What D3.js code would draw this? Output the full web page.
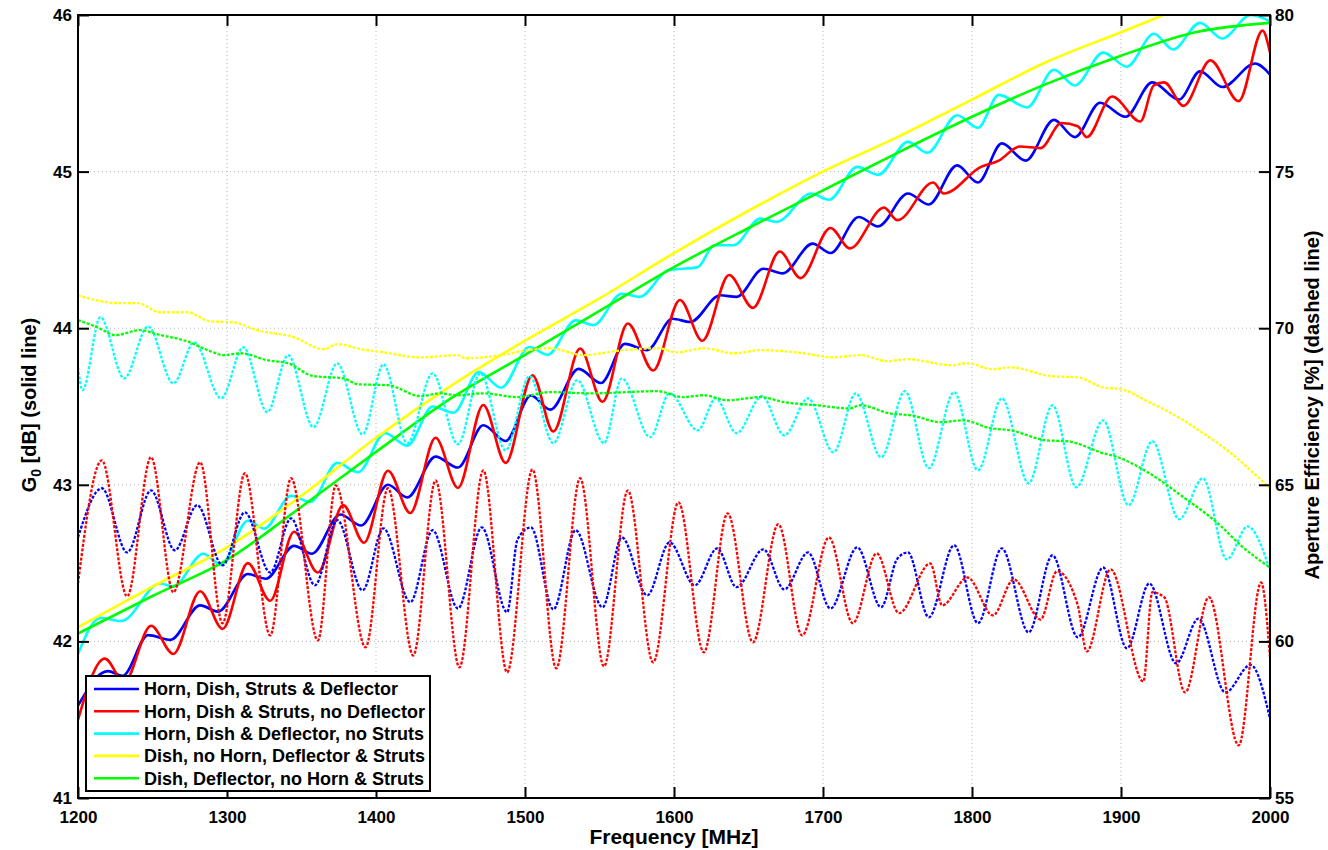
<!DOCTYPE html>
<html><head><meta charset="utf-8">
<script src="https://cdn.jsdelivr.net/npm/d3@7"></script>
<style>
html,body{margin:0;padding:0;background:#fff;}
svg{display:block;font-family:"Liberation Sans",Arial,Helvetica,sans-serif;font-weight:bold;}
</style></head><body>
<svg id="chart" width="1328" height="850"></svg>
<script>
// ---------- axis ticks ----------
const freqTicks = [1200,1300,1400,1500,1600,1700,1800,1900,2000];
const gainTicks = [41,42,43,44,45,46];
const effTicks  = [55,60,65,70,75,80];

// ---------- legend ----------
const seriesNames = [
  "Horn, Dish, Struts & Deflector",
  "Horn, Dish & Struts, no Deflector",
  "Horn, Dish & Deflector, no Struts",
  "Dish, no Horn, Deflector & Struts",
  "Dish, Deflector, no Horn & Struts"
];
const seriesColors = ["#0000ff","#ff0000","#00ffff","#ffff00","#00ff00"];

// ---------- G0 [dB] (solid lines): [frequency MHz, gain dB] ----------
const blueSolid = [[1200,41.59],[1220,41.81],[1230,41.78],[1247,42.04],[1262,42.01],[1282,42.23],[1294,42.19],[1314,42.43],[1326,42.40],[1345,42.61],[1357,42.56],[1376,42.81],[1390,42.74],[1408,43.00],[1421,42.92],[1440,43.18],[1455,43.11],[1472,43.38],[1487,43.28],[1504,43.57],[1517,43.48],[1536,43.74],[1551,43.65],[1567,43.90],[1582,43.86],[1599,44.06],[1611,44.04],[1631,44.21],[1642,44.20],[1660,44.38],[1673,44.35],[1693,44.54],[1705,44.48],[1724,44.71],[1737,44.65],[1757,44.86],[1771,44.79],[1790,45.04],[1804,44.93],[1820,45.18],[1836,45.07],[1855,45.33],[1869,45.22],[1886,45.44],[1903,45.35],[1921,45.57],[1939,45.46],[1953,45.64],[1968,45.54],[1990,45.69],[2000,45.62]];
const redSolid = [[1200,41.50],[1218,41.89],[1231,41.74],[1249,42.10],[1264,41.92],[1282,42.32],[1297,42.08],[1314,42.50],[1329,42.26],[1345,42.70],[1361,42.44],[1378,42.87],[1392,42.63],[1408,43.09],[1423,42.82],[1440,43.30],[1455,42.98],[1472,43.51],[1487,43.14],[1505,43.70],[1519,43.34],[1537,43.87],[1552,43.53],[1569,44.03],[1586,43.73],[1604,44.18],[1619,43.92],[1637,44.34],[1653,44.13],[1671,44.49],[1685,44.32],[1705,44.64],[1718,44.51],[1741,44.77],[1750,44.69],[1774,44.93],[1781,44.86],[1806,45.03],[1818,45.07],[1832,45.16],[1846,45.15],[1860,45.31],[1871,45.29],[1877,45.22],[1894,45.48],[1913,45.32],[1922,45.55],[1929,45.57],[1942,45.42],[1960,45.71],[1979,45.45],[1995,45.90],[2000,45.76]];
const cyanSolid = [[1200,41.92],[1215,42.15],[1229,42.13],[1255,42.37],[1264,42.35],[1284,42.56],[1296,42.49],[1314,42.77],[1325,42.72],[1343,42.93],[1356,42.89],[1374,43.14],[1388,43.08],[1406,43.33],[1421,43.25],[1438,43.50],[1452,43.46],[1469,43.72],[1484,43.62],[1503,43.88],[1515,43.83],[1534,44.05],[1546,44.02],[1565,44.22],[1577,44.20],[1596,44.37],[1616,44.39],[1627,44.53],[1640,44.53],[1658,44.70],[1669,44.68],[1692,44.86],[1704,44.82],[1723,45.03],[1737,44.98],[1757,45.19],[1770,45.12],[1790,45.36],[1804,45.28],[1818,45.49],[1837,45.41],[1855,45.65],[1869,45.55],[1888,45.76],[1904,45.67],[1922,45.88],[1935,45.78],[1953,45.95],[1968,45.85],[1987,46.00],[2000,45.96]];
const yellowSolid = [[1200,42.09],[1250,42.35],[1300,42.60],[1350,42.93],[1400,43.30],[1450,43.63],[1500,43.92],[1550,44.19],[1600,44.48],[1650,44.75],[1700,45.00],[1750,45.22],[1800,45.46],[1850,45.70],[1900,45.89],[1950,46.08],[2000,46.25]];
const greenSolid = [[1200,42.05],[1250,42.29],[1300,42.52],[1350,42.86],[1400,43.21],[1450,43.55],[1500,43.83],[1550,44.11],[1600,44.39],[1650,44.64],[1700,44.88],[1750,45.12],[1800,45.35],[1850,45.56],[1900,45.74],[1950,45.89],[2000,45.95]];

// ---------- Aperture efficiency [%] (dashed lines): [frequency MHz, efficiency %] ----------
const blueDash = [[1200,63.32],[1216,64.89],[1233,62.84],[1249,64.82],[1265,62.91],[1280,64.35],[1297,62.43],[1312,64.12],[1329,62.20],[1343,63.93],[1359,61.79],[1374,63.87],[1391,61.63],[1405,63.61],[1423,61.25],[1438,63.55],[1455,61.05],[1471,63.64],[1488,60.93],[1495,63.26],[1504,63.64],[1519,61.02],[1534,63.55],[1552,61.09],[1565,63.32],[1582,61.47],[1597,63.16],[1614,61.79],[1629,62.97],[1642,61.73],[1660,62.94],[1674,61.66],[1690,62.84],[1705,61.05],[1723,63.00],[1739,61.09],[1750,62.65],[1757,62.84],[1771,60.77],[1788,63.07],[1804,60.58],[1820,62.97],[1838,60.29],[1854,62.75],[1871,60.13],[1888,62.36],[1904,59.78],[1919,61.85],[1937,59.30],[1952,60.73],[1970,58.37],[1987,59.25],[2000,57.54]];
const redDash = [[1200,61.85],[1216,65.78],[1233,61.44],[1249,65.88],[1264,61.57],[1282,65.72],[1297,60.58],[1312,65.37],[1329,60.19],[1343,65.21],[1361,60.03],[1373,64.98],[1393,59.81],[1408,64.89],[1425,59.55],[1440,65.14],[1456,59.17],[1472,65.46],[1488,59.01],[1505,65.49],[1521,59.14],[1537,65.21],[1553,59.20],[1569,64.82],[1586,59.33],[1603,64.44],[1620,59.65],[1636,64.09],[1653,59.97],[1670,63.74],[1686,60.19],[1704,63.32],[1720,60.58],[1736,62.81],[1751,60.90],[1772,62.49],[1780,61.15],[1797,62.04],[1814,60.83],[1828,61.98],[1846,60.70],[1857,62.24],[1871,61.15],[1877,59.68],[1893,62.30],[1915,58.72],[1921,61.57],[1929,61.41],[1943,58.37],[1959,61.41],[1979,56.68],[1994,61.88],[2000,59.49]];
const cyanDash = [[1200,68.75],[1203,68.02],[1215,70.35],[1231,68.40],[1247,70.06],[1264,68.24],[1278,69.55],[1296,67.76],[1311,69.39],[1327,67.32],[1341,69.14],[1358,66.84],[1374,68.88],[1391,66.61],[1405,68.85],[1421,66.33],[1438,68.56],[1455,66.29],[1470,68.56],[1487,66.10],[1503,68.47],[1519,66.33],[1535,68.34],[1553,66.33],[1565,68.40],[1584,66.52],[1597,67.92],[1616,66.74],[1628,67.76],[1642,66.65],[1659,67.83],[1674,66.58],[1690,67.76],[1707,66.04],[1722,67.92],[1739,65.88],[1755,67.99],[1771,65.53],[1788,67.96],[1804,65.46],[1820,67.76],[1838,65.05],[1854,67.54],[1870,64.92],[1888,67.06],[1905,64.35],[1921,66.39],[1939,63.90],[1955,65.21],[1971,62.62],[1985,63.67],[2000,62.27]];
const yellowDash = [[1200,71.05],[1227,70.80],[1240,70.80],[1255,70.51],[1273,70.51],[1289,70.22],[1304,70.19],[1320,69.94],[1345,69.71],[1365,69.33],[1374,69.49],[1390,69.33],[1405,69.23],[1430,69.07],[1455,69.14],[1460,69.04],[1484,69.14],[1502,69.30],[1517,69.36],[1539,69.14],[1566,69.30],[1589,69.36],[1602,69.23],[1620,69.36],[1640,69.20],[1658,69.30],[1687,69.20],[1707,69.07],[1725,69.14],[1743,68.95],[1757,69.01],[1786,68.82],[1797,68.88],[1814,68.69],[1826,68.75],[1853,68.47],[1871,68.43],[1888,68.11],[1900,68.05],[1919,67.64],[1942,67.06],[1955,66.65],[1973,66.04],[1987,65.46],[2000,64.89]];
const greenDash = [[1200,70.26],[1213,70.03],[1225,69.78],[1242,69.94],[1253,69.81],[1275,69.55],[1287,69.30],[1298,69.14],[1309,69.20],[1327,68.98],[1341,68.88],[1358,68.47],[1378,68.40],[1388,68.21],[1408,68.18],[1430,67.83],[1443,67.92],[1455,67.86],[1472,67.92],[1495,67.80],[1517,67.96],[1544,67.92],[1589,67.99],[1606,67.80],[1620,67.86],[1636,67.70],[1658,67.80],[1674,67.64],[1696,67.54],[1718,67.44],[1725,67.54],[1745,67.28],[1759,67.22],[1779,67.00],[1794,67.06],[1812,66.81],[1826,66.74],[1850,66.42],[1864,66.39],[1888,66.01],[1898,65.88],[1919,65.37],[1942,64.60],[1965,63.77],[1982,63.00],[2000,62.36]];

const solidSeries = [blueSolid, redSolid, cyanSolid, yellowSolid, greenSolid];
const dashSeries  = [blueDash, redDash, cyanDash, yellowDash, greenDash];

// ---------- layout ----------
const W = 1328, H = 850;
const L = 78, R = 1270, T = 15, B = 798;
const svg = d3.select("#chart");

const x  = d3.scaleLinear().domain([1200,2000]).range([L,R]);
const yL = d3.scaleLinear().domain([41,46]).range([B,T]);
const yR = d3.scaleLinear().domain([55,80]).range([B,T]);

svg.append("rect").attr("width",W).attr("height",H).attr("fill","#fff");

// grid
const grid = svg.append("g").attr("stroke","#b4b4b4").attr("stroke-width",1).attr("stroke-dasharray","1,3");
grid.selectAll("line.v").data(freqTicks.slice(1,-1)).join("line")
  .attr("x1",d=>x(d)).attr("x2",d=>x(d)).attr("y1",T).attr("y2",B);
grid.selectAll("line.h").data(gainTicks.slice(1,-1)).join("line")
  .attr("x1",L).attr("x2",R).attr("y1",d=>yL(d)).attr("y2",d=>yL(d));

// clip
svg.append("clipPath").attr("id","plotclip").append("rect")
  .attr("x",L).attr("y",T).attr("width",R-L).attr("height",B-T);

const lineL = d3.line().x(d=>x(d[0])).y(d=>yL(d[1])).curve(d3.curveMonotoneX);
const lineR = d3.line().x(d=>x(d[0])).y(d=>yR(d[1])).curve(d3.curveMonotoneX);

const plot = svg.append("g").attr("clip-path","url(#plotclip)");
plot.selectAll("path.solid").data(solidSeries).join("path")
  .attr("class","solid").attr("d",lineL).attr("fill","none")
  .attr("stroke",(d,i)=>seriesColors[i]).attr("stroke-width",2.6)
  .attr("stroke-linejoin","round");
plot.selectAll("path.dash").data(dashSeries).join("path")
  .attr("class","dash").attr("d",lineR).attr("fill","none")
  .attr("stroke",(d,i)=>seriesColors[i]).attr("stroke-width",2.3)
  .attr("stroke-dasharray","3,1.6");

// axes
function styleAxis(g){
  g.select(".domain").remove();
  g.selectAll(".tick line").attr("stroke","#000").attr("stroke-width",2);
  g.selectAll(".tick text").attr("fill","#000").attr("font-size",17)
   .attr("font-weight","bold").attr("font-family","'Liberation Sans',Arial,sans-serif");
}
svg.append("g").attr("transform",`translate(0,${B})`)
  .call(d3.axisBottom(x).tickValues(freqTicks).tickSize(-11).tickSizeOuter(0).tickPadding(12.5).tickFormat(d3.format("d")))
  .call(styleAxis);
svg.append("g").attr("transform",`translate(0,${T})`)
  .call(d3.axisTop(x).tickValues(freqTicks).tickSize(-11).tickSizeOuter(0).tickFormat(""))
  .call(styleAxis);
svg.append("g").attr("transform",`translate(${L},0)`)
  .call(d3.axisLeft(yL).tickValues(gainTicks).tickSize(-11).tickSizeOuter(0).tickPadding(6).tickFormat(d3.format("d")))
  .call(styleAxis);
svg.append("g").attr("transform",`translate(${R},0)`)
  .call(d3.axisRight(yR).tickValues(effTicks).tickSize(-11).tickSizeOuter(0).tickPadding(5).tickFormat(d3.format("d")))
  .call(styleAxis);

// frame
svg.append("rect").attr("x",L).attr("y",T).attr("width",R-L).attr("height",B-T)
  .attr("fill","none").attr("stroke","#000").attr("stroke-width",2);

// axis titles
svg.append("text").attr("x",(L+R)/2).attr("y",844).attr("text-anchor","middle")
  .attr("font-size",21).attr("fill","#000").text("Frequency [MHz]");
const yl = svg.append("text").attr("transform","translate(36,405) rotate(-90)")
  .attr("text-anchor","middle").attr("font-size",20).attr("fill","#000");
yl.append("tspan").text("G");
yl.append("tspan").attr("font-size",14).attr("dy",5).text("0");
yl.append("tspan").attr("dy",-5).text(" [dB] (solid line)");
svg.append("text").attr("transform","translate(1319,405) rotate(-90)")
  .attr("text-anchor","middle").attr("font-size",20).attr("fill","#000")
  .text("Aperture Efficiency [%] (dashed line)");

// legend
const lg = svg.append("g");
lg.append("rect").attr("x",86).attr("y",676).attr("width",344).attr("height",115)
  .attr("fill","#fff").attr("stroke","#000").attr("stroke-width",2);
const rows = lg.selectAll("g.row").data(seriesNames).join("g")
  .attr("transform",(d,i)=>`translate(0,${689+i*22.3})`);
rows.append("line").attr("x1",94).attr("x2",139).attr("y1",0).attr("y2",0)
  .attr("stroke",(d,i)=>seriesColors[i]).attr("stroke-width",2.6);
rows.append("text").attr("x",144).attr("y",0).attr("dy","0.35em")
  .attr("font-size",18).attr("fill","#000").text(d=>d);
</script>
</body></html>
